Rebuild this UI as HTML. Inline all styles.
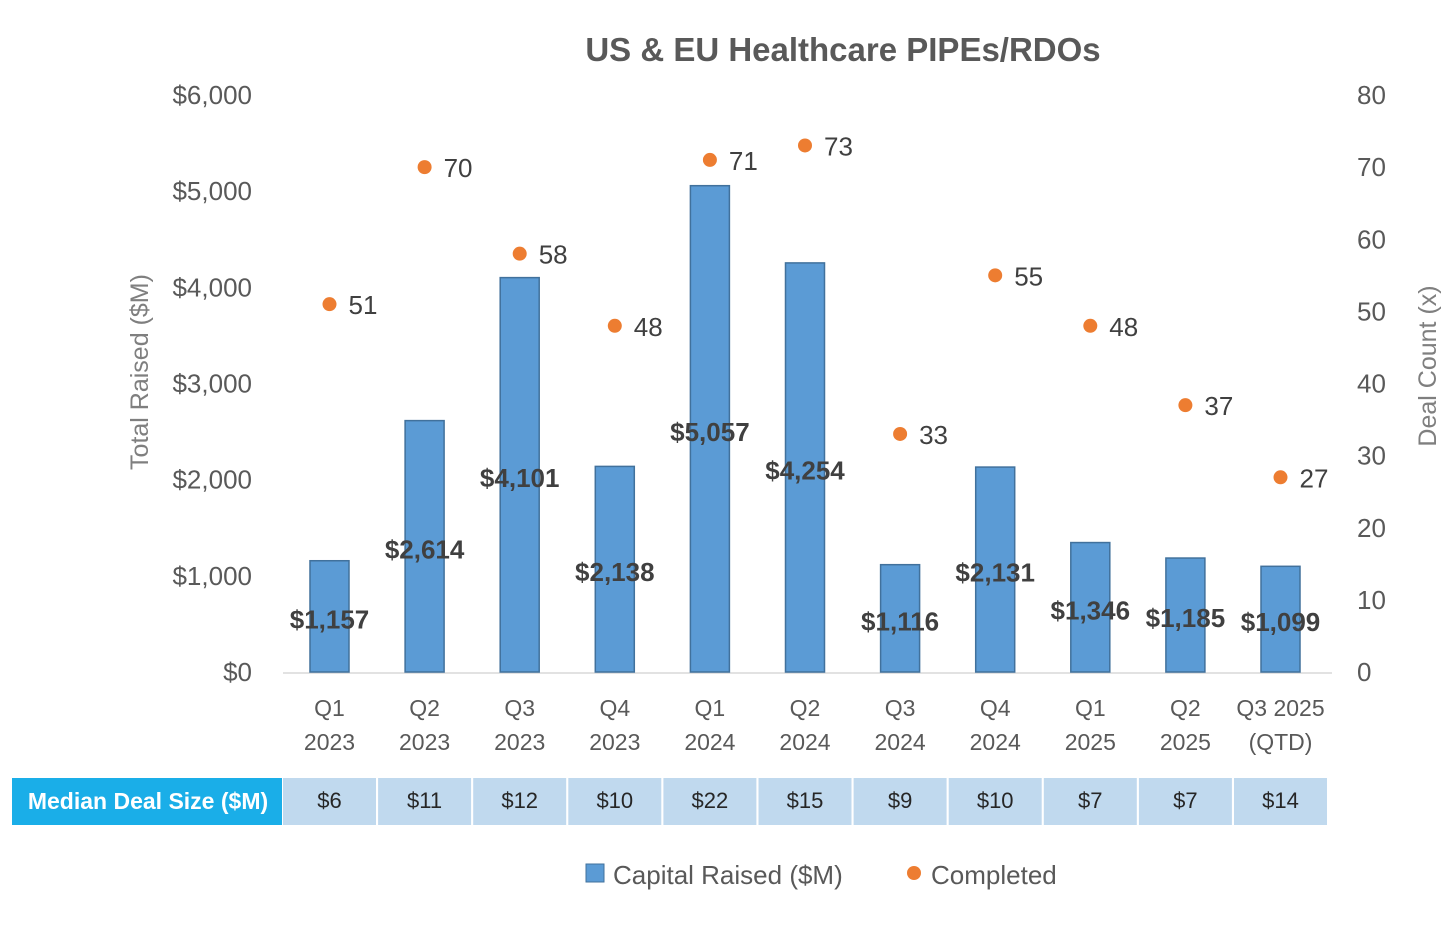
<!DOCTYPE html>
<html><head><meta charset="utf-8"><style>
body{margin:0;background:#fff;font-family:"Liberation Sans",sans-serif}
</style></head><body>
<svg id="chart" width="1452" height="920" xmlns="http://www.w3.org/2000/svg" font-family="Liberation Sans, sans-serif">
<text x="843" y="61" text-anchor="middle" font-size="33" font-weight="bold" fill="#595959">US &amp; EU Healthcare PIPEs/RDOs</text>
<text transform="translate(148,372) rotate(-90)" text-anchor="middle" font-size="25" fill="#7f7f7f">Total Raised ($M)</text>
<text transform="translate(1436,366) rotate(-90)" text-anchor="middle" font-size="25" fill="#7f7f7f">Deal Count (x)</text>
<line x1="283" y1="673" x2="1332" y2="673" stroke="#d9d9d9" stroke-width="1.5"/>
<g id="g"></g>
<rect x="12" y="778" width="270" height="47" fill="#1aaee8"/>
<text x="148" y="809" text-anchor="middle" font-size="23" font-weight="bold" fill="#fff">Median Deal Size ($M)</text>
<rect x="586" y="864" width="18" height="18" fill="#5b9bd5" stroke="#41719c"/>
<text x="613" y="884" font-size="26" fill="#595959">Capital Raised ($M)</text>
<circle cx="914" cy="873" r="7" fill="#ed7d31"/>
<text x="931" y="884" font-size="26" fill="#595959">Completed</text>
</svg>
<script>
const categories=["Q1|2023","Q2|2023","Q3|2023","Q4|2023","Q1|2024","Q2|2024","Q3|2024","Q4|2024","Q1|2025","Q2|2025","Q3 2025|(QTD)"];
const capital=[1157,2614,4101,2138,5057,4254,1116,2131,1346,1185,1099];
const completed=[51,70,58,48,71,73,33,55,48,37,27];
const medians=[6,11,12,10,22,15,9,10,7,7,14];
const leftTicks=[0,1000,2000,3000,4000,5000,6000];
const rightTicks=[0,10,20,30,40,50,60,70,80];
const NS="http://www.w3.org/2000/svg",g=document.getElementById('g');
const y0=672,yTop=95;
const yL=v=>y0-v/6000*(y0-yTop), yR=v=>y0-v/80*(y0-yTop);
const xC=i=>329.5+i*95.1;
const fmt=v=>'$'+v.toLocaleString('en-US');
function el(t,a,txt){const e=document.createElementNS(NS,t);for(const k in a)e.setAttribute(k,a[k]);if(txt!==undefined)e.textContent=txt;g.appendChild(e);return e;}
leftTicks.forEach(v=>{const e=el('text',{x:252,y:yL(v)+9,'text-anchor':'end','font-size':26,fill:'#595959'},fmt(v));

});
rightTicks.forEach(v=>{const e=el('text',{x:1357,y:yR(v)+9,'font-size':26,fill:'#595959'},String(v));

});
capital.forEach((v,i)=>{const x=xC(i);
const b=el('rect',{x:x-19.5,y:yL(v),width:39,height:y0-yL(v),fill:'#5b9bd5',stroke:'#41719c','stroke-width':1.5});


const t=el('text',{x:x,y:(yL(v)+y0)/2+12,'text-anchor':'middle','font-size':26,'font-weight':'bold',fill:'#404040'},fmt(v));


const [a,c]=categories[i].split('|');
const t1=el('text',{x:x,y:716,'text-anchor':'middle','font-size':23,fill:'#595959'},a);


const t2=el('text',{x:x,y:750,'text-anchor':'middle','font-size':23,fill:'#595959'},c);


const cell=el('rect',{x:x-47.5+1,y:778,width:93,height:47,fill:'#c0d9ee'});


const ct=el('text',{x:x,y:808,'text-anchor':'middle','font-size':22,fill:'#262626'},'$'+medians[i]);

});
completed.forEach((v,i)=>{const x=xC(i);
const d=el('circle',{cx:x,cy:yR(v),r:7,fill:'#ed7d31'});


const t=el('text',{x:x+19,y:yR(v)+10,'font-size':26,fill:'#404040'},String(v));

});
</script>
</body></html>
